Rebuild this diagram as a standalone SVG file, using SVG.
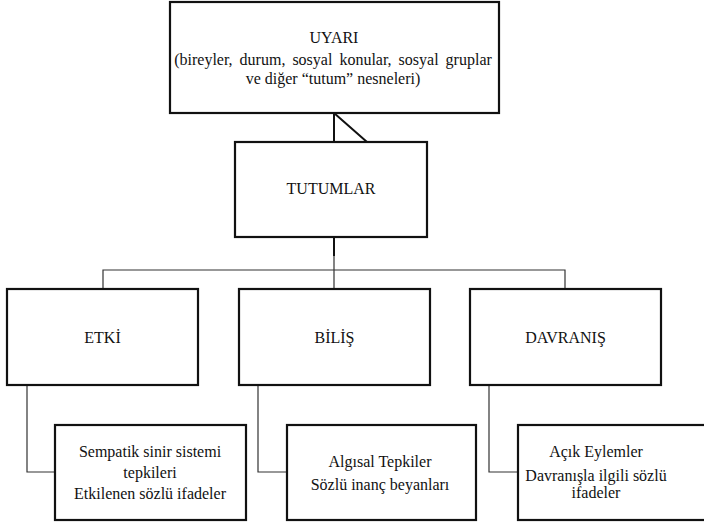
<svg xmlns="http://www.w3.org/2000/svg" width="704" height="524" viewBox="0 0 704 524">
<style>
.box{fill:#fff;stroke:#111;stroke-width:2.2}
.t{font-family:"Liberation Serif","Times New Roman",serif;font-size:16px;fill:#111;text-anchor:middle}
.c{fill:none;stroke:#333;stroke-width:1.2}
.ck{fill:none;stroke:#111;stroke-width:2}
</style>
<rect width="704" height="524" fill="#fff"/>
<g id="connectors">
<path class="ck" d="M334,113 V142 M334,113 L367,142"/>
<path class="ck" d="M334,237 V256"/>
<path class="c" d="M334,256 V289 M103,289 V270 H565 V289"/>
<path class="c" d="M27,385 V472 H55"/>
<path class="c" d="M258,385 V472 H287"/>
<path class="c" d="M489,385 V472 H518"/>
</g>
<g id="uyari">
<rect class="box" x="170" y="2" width="329" height="111"/>
<text class="t" x="334" y="43">UYARI</text>
<text class="t" x="333" y="65" word-spacing="3">(bireyler, durum, sosyal konular, sosyal gruplar</text>
<text class="t" x="333" y="84">ve diğer “tutum” nesneleri)</text>
</g>
<g id="tutumlar">
<rect class="box" x="235" y="142" width="192" height="95"/>
<text class="t" x="331" y="194">TUTUMLAR</text>
</g>
<g id="etki">
<rect class="box" x="7" y="289" width="191" height="96"/>
<text class="t" x="102.5" y="343">ETKİ</text>
</g>
<g id="bilis">
<rect class="box" x="239" y="289" width="191" height="96"/>
<text class="t" x="334.5" y="343">BİLİŞ</text>
</g>
<g id="davranis">
<rect class="box" x="470" y="289" width="191" height="96"/>
<text class="t" x="565.5" y="343">DAVRANIŞ</text>
</g>
<g id="etki-detay">
<rect class="box" x="55" y="425" width="191" height="95"/>
<text class="t" x="150" y="457">Sempatik sinir sistemi</text>
<text class="t" x="150" y="478">tepkileri</text>
<text class="t" x="150" y="499">Etkilenen sözlü ifadeler</text>
</g>
<g id="bilis-detay">
<rect class="box" x="287" y="425" width="189" height="95"/>
<text class="t" x="380" y="467">Algısal Tepkiler</text>
<text class="t" x="380" y="490">Sözlü inanç beyanları</text>
</g>
<g id="davranis-detay">
<rect class="box" x="518" y="425" width="191" height="95"/>
<text class="t" x="596" y="457">Açık Eylemler</text>
<text class="t" x="596" y="481">Davranışla ilgili sözlü</text>
<text class="t" x="596" y="498">ifadeler</text>
</g>
</svg>
